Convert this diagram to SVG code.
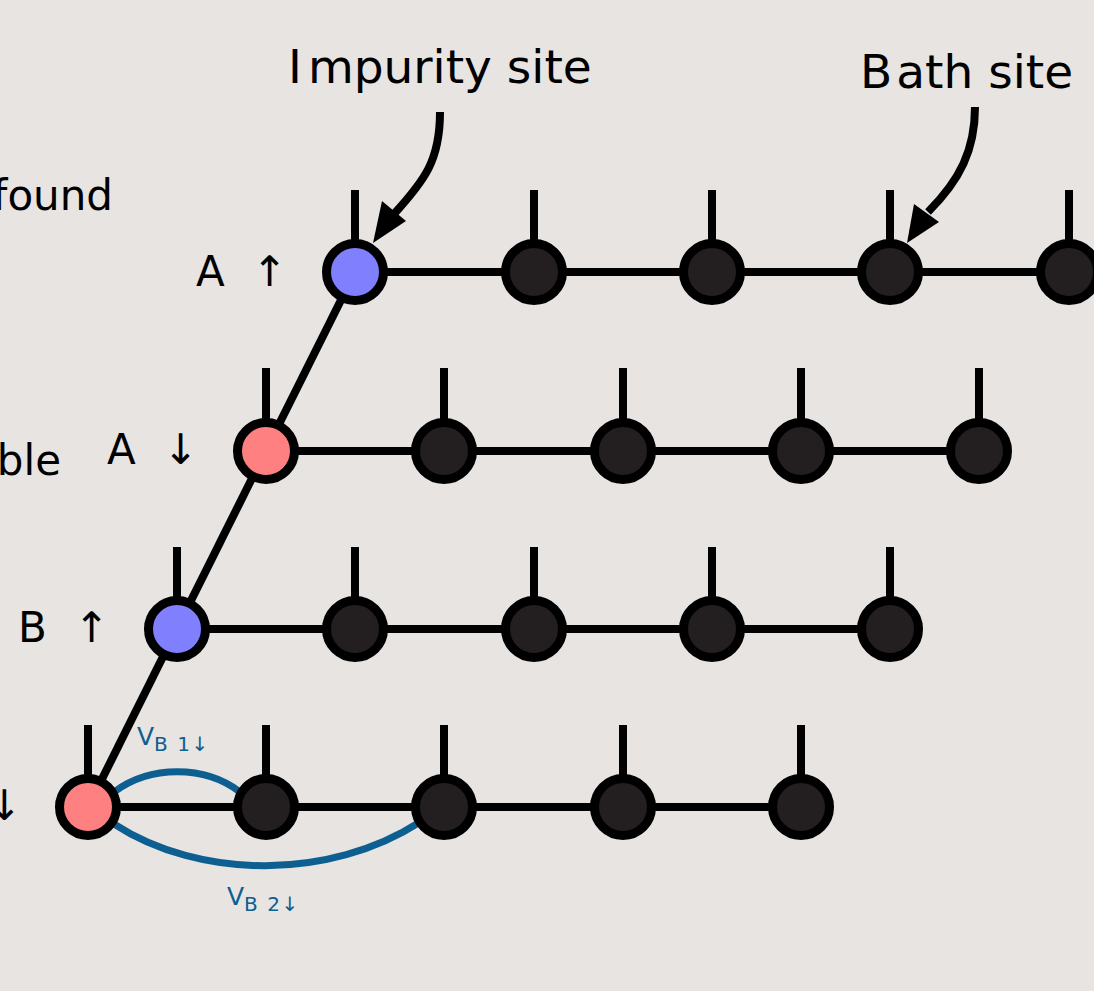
<svg xmlns="http://www.w3.org/2000/svg" width="1094" height="991" viewBox="0 0 1094 991">
<style>
.bg{fill:#e7e4e1}
.ln{stroke:#000;stroke-width:8;fill:none}
.tk{stroke:#000;stroke-width:8}
.bath{fill:#231f20;stroke:#000;stroke-width:9}
.impA{fill:#8080ff;stroke:#000;stroke-width:9}
.impR{fill:#ff8080;stroke:#000;stroke-width:9}
.lbl{font-family:"DejaVu Sans",sans-serif;font-size:42px;fill:#000}
.big{font-family:"DejaVu Sans",sans-serif;font-size:47px;fill:#000}
.v{font-family:"DejaVu Sans",sans-serif;fill:#0c5f90}
.hyb{stroke:#0c5f90;stroke-width:7;fill:none}
</style>
<rect class="bg" x="0" y="0" width="1094" height="991"/>
<g id="connectors">
  <line class="ln" x1="355" y1="272" x2="88" y2="807"/>
  <line class="ln" x1="355" y1="272" x2="1094" y2="272"/>
  <line class="ln" x1="266" y1="451" x2="979" y2="451"/>
  <line class="ln" x1="177" y1="629" x2="890" y2="629"/>
  <line class="ln" x1="88" y1="807" x2="801" y2="807"/>
  <path class="hyb" d="M114,792 C150,765 205,765 240,792"/>
  <path class="hyb" d="M114,824 C200,880 330,880 420,822"/>
  <path class="ln" d="M440,112 C440,160 425,180 394,214"/>
  <polygon points="373,243 382,201 406,221" fill="#000"/>
  <path class="ln" d="M975,107 C975,150 960,180 928,212"/>
  <polygon points="907,243 914,204 939,222" fill="#000"/>
</g>
<g id="ticks">
  <line class="tk" x1="355" y1="190" x2="355" y2="245"/>
  <line class="tk" x1="534" y1="190" x2="534" y2="245"/>
  <line class="tk" x1="712" y1="190" x2="712" y2="245"/>
  <line class="tk" x1="890" y1="190" x2="890" y2="245"/>
  <line class="tk" x1="1069" y1="190" x2="1069" y2="245"/>
  <line class="tk" x1="266" y1="368" x2="266" y2="424"/>
  <line class="tk" x1="444" y1="368" x2="444" y2="424"/>
  <line class="tk" x1="623" y1="368" x2="623" y2="424"/>
  <line class="tk" x1="801" y1="368" x2="801" y2="424"/>
  <line class="tk" x1="979" y1="368" x2="979" y2="424"/>
  <line class="tk" x1="177" y1="547" x2="177" y2="602"/>
  <line class="tk" x1="355" y1="547" x2="355" y2="602"/>
  <line class="tk" x1="534" y1="547" x2="534" y2="602"/>
  <line class="tk" x1="712" y1="547" x2="712" y2="602"/>
  <line class="tk" x1="890" y1="547" x2="890" y2="602"/>
  <line class="tk" x1="88" y1="725" x2="88" y2="780"/>
  <line class="tk" x1="266" y1="725" x2="266" y2="780"/>
  <line class="tk" x1="444" y1="725" x2="444" y2="780"/>
  <line class="tk" x1="623" y1="725" x2="623" y2="780"/>
  <line class="tk" x1="801" y1="725" x2="801" y2="780"/>
</g>
<g id="imp-Aup"><circle class="impA" cx="355" cy="272" r="28.5"/></g>
<g id="bath-Aup-1"><circle class="bath" cx="534" cy="272" r="28.5"/></g>
<g id="bath-Aup-2"><circle class="bath" cx="712" cy="272" r="28.5"/></g>
<g id="bath-Aup-3"><circle class="bath" cx="890" cy="272" r="28.5"/></g>
<g id="bath-Aup-4"><circle class="bath" cx="1069" cy="272" r="28.5"/></g>
<g id="imp-Adn"><circle class="impR" cx="266" cy="451" r="28.5"/></g>
<g id="bath-Adn-1"><circle class="bath" cx="444" cy="451" r="28.5"/></g>
<g id="bath-Adn-2"><circle class="bath" cx="623" cy="451" r="28.5"/></g>
<g id="bath-Adn-3"><circle class="bath" cx="801" cy="451" r="28.5"/></g>
<g id="bath-Adn-4"><circle class="bath" cx="979" cy="451" r="28.5"/></g>
<g id="imp-Bup"><circle class="impA" cx="177" cy="629" r="28.5"/></g>
<g id="bath-Bup-1"><circle class="bath" cx="355" cy="629" r="28.5"/></g>
<g id="bath-Bup-2"><circle class="bath" cx="534" cy="629" r="28.5"/></g>
<g id="bath-Bup-3"><circle class="bath" cx="712" cy="629" r="28.5"/></g>
<g id="bath-Bup-4"><circle class="bath" cx="890" cy="629" r="28.5"/></g>
<g id="imp-Bdn"><circle class="impR" cx="88" cy="807" r="28.5"/></g>
<g id="bath-Bdn-1"><circle class="bath" cx="266" cy="807" r="28.5"/></g>
<g id="bath-Bdn-2"><circle class="bath" cx="444" cy="807" r="28.5"/></g>
<g id="bath-Bdn-3"><circle class="bath" cx="623" cy="807" r="28.5"/></g>
<g id="bath-Bdn-4"><circle class="bath" cx="801" cy="807" r="28.5"/></g>
<g id="labels">
  <text class="big" x="288" y="83">I<tspan dx="6">mpurity site</tspan></text>
  <text class="big" x="860" y="88">B<tspan dx="4">ath site</tspan></text>
  <text class="lbl" x="113" y="210" text-anchor="end">found</text>
  <text class="lbl" x="61" y="475" text-anchor="end">ble</text>
  <text class="lbl" x="22" y="820" text-anchor="end">↓</text>
  <text class="lbl" x="196" y="286">A</text><text class="lbl" x="252" y="286">↑</text>
  <text class="lbl" x="107" y="464">A</text><text class="lbl" x="163" y="464">↓</text>
  <text class="lbl" x="18" y="642">B</text><text class="lbl" x="74" y="642">↑</text>
  <text class="v" x="137" y="745" font-size="25">V<tspan font-size="20" dy="6" letter-spacing="1.5">B 1↓</tspan></text>
  <text class="v" x="227" y="905" font-size="25">V<tspan font-size="20" dy="6" letter-spacing="1.5">B 2↓</tspan></text>
</g>
</svg>
